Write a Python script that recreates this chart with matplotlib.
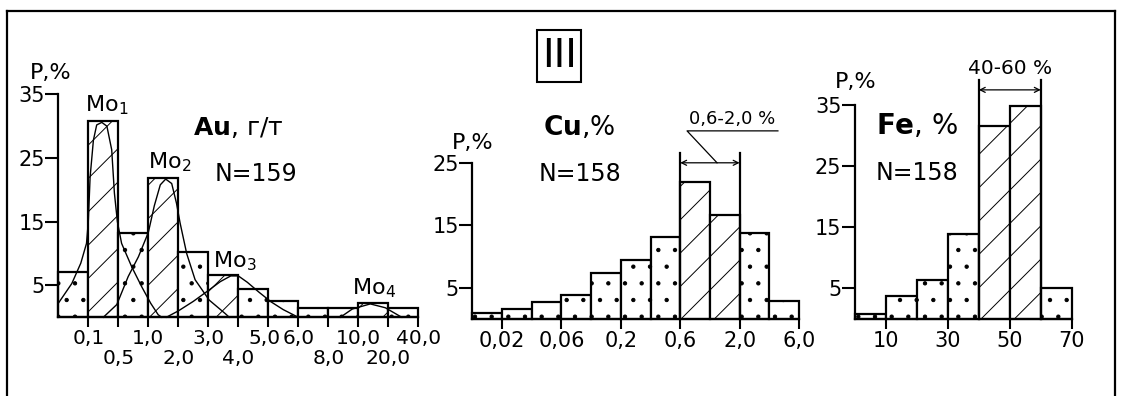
import matplotlib
matplotlib.use("Agg")
import matplotlib.pyplot as plt
from matplotlib.lines import Line2D
from matplotlib.patches import Rectangle

plt.rcParams['font.family'] = ['DejaVu Sans']
plt.rcParams['hatch.linewidth'] = 0.7

# ---- data ----
# Au, g/t  (12 classes, N=159)
au_edges = ['0,1', '0,5', '1,0', '2,0', '3,0', '4,0', '5,0', '6,0', '8,0', '10,0', '20,0', '40,0']
au_p = [7.1, 30.8, 13.3, 21.8, 10.3, 6.7, 4.4, 2.6, 1.4, 1.4, 2.2, 1.5]
au_hatched = [1, 3, 5, 10]
# fitted mode curves (x in class units, y in %)
mo1_x = [0.0, 0.45, 0.75, 0.94, 1.0, 1.06, 1.17, 1.28, 1.45, 1.62, 1.78, 1.87, 1.97, 2.11, 2.45, 2.78, 3.08, 3.33, 3.45]
mo1_y = [2.2, 5.3, 8.5, 11.6, 15.0, 22.0, 27.8, 30.2, 30.6, 30.0, 26.3, 19.5, 15.0, 11.6, 7.9, 4.8, 2.2, 0.4, 0.0]
mo2_x = [1.5, 1.95, 2.33, 2.67, 3.0, 3.2, 3.4, 3.58, 3.78, 3.94, 4.06, 4.28, 4.56, 5.03, 5.56, 5.7]
mo2_y = [0.0, 2.0, 6.4, 9.5, 13.3, 17.5, 20.8, 21.7, 21.0, 17.9, 14.8, 10.0, 5.9, 2.7, 0.6, 0.0]
mo3_x = [3.6, 4.0, 4.5, 5.0, 5.4, 5.75, 6.0, 6.3, 6.7, 7.1, 7.5, 8.0]
mo3_y = [0.0, 1.0, 2.5, 4.2, 5.6, 6.5, 6.5, 5.5, 3.9, 2.4, 1.2, 0.0]
mo4_x = [9.4, 9.8, 10.4, 10.9, 11.45]
mo4_y = [0.0, 1.3, 2.1, 1.5, 0.0]

# Cu, %  (11 classes, N=158)
cu_edges = ['0,02', '', '0,06', '', '0,2', '', '0,6', '', '2,0', '', '6,0']
cu_p = [1.0, 1.6, 2.8, 3.9, 7.4, 9.5, 13.2, 21.9, 16.7, 13.8, 2.9]
cu_hatched = [7, 8]

# Fe, %  (7 classes, N=158)
fe_edges = ['10', '', '30', '', '50', '', '70']
fe_p = [0.9, 3.8, 6.4, 13.9, 31.6, 34.8, 5.1]
fe_hatched = [4, 5]

W, H = 1121, 396
fig = plt.figure(figsize=(W / 100, H / 100), dpi=100)


def px(x, y):
    return x / W, (H - y) / H


def make_ax(x0, x1, base, scale, top, n, yticks):
    ax = fig.add_axes([x0 / W, (H - base) / H, (x1 - x0) / W, top * scale / H])
    ax.set_xlim(0, n)
    ax.set_ylim(0, top)
    ax.patch.set_visible(False)
    for s in ['top', 'right']:
        ax.spines[s].set_visible(False)
    ax.spines['left'].set_bounds(0, yticks[-1])
    ax.spines['left'].set_linewidth(1.6)
    ax.spines['bottom'].set_linewidth(1.6)
    ax.set_yticks(yticks, [str(t) for t in yticks])
    ax.tick_params(axis='y', length=9.5, width=1.5, pad=0.3, labelsize=15)
    ax.tick_params(axis='x', length=7.5, width=1.5, pad=0.8, labelsize=15)
    return ax


def draw_bars(ax, p, hatched):
    xs = [i + 0.5 for i in range(len(p))]
    bars = ax.bar(xs, p, width=1, color='white', edgecolor='black', linewidth=1.6, clip_on=False, zorder=2)
    for i, b in enumerate(bars):
        b.set_hatch('/' if i in hatched else '.')


# ---- Au panel ----
ax1 = make_ax(58.3, 418.3, 317.3, 6.37, 36, 12, [5, 15, 25, 35])
draw_bars(ax1, au_p, au_hatched)
ax1.set_xticks(range(1, 13), [''] * 12)
# two staggered rows of class-boundary labels
au_row = [0, 1, 0, 1, 0, 1, 0, 0, 1, 0, 1, 0]
au_dx = [0, 0, 0, 0, 0, 0, -3, 0, 0, 0, 0, 0]
for i, (lab, r, dx) in enumerate(zip(au_edges, au_row, au_dx)):
    ax1.annotate(lab, xy=(i + 1, 0), xytext=(dx, -22.7 if r else -8.3), textcoords='offset points',
                 ha='center', va='top', fontsize=14.5, annotation_clip=False)
for cx, cy in [(mo1_x, mo1_y), (mo2_x, mo2_y), (mo3_x, mo3_y), (mo4_x, mo4_y)]:
    ax1.plot(cx, cy, color='black', lw=1.0, clip_on=False, zorder=3)

# ---- Cu panel ----
ax2 = make_ax(472.3, 799, 319.3, 6.26, 26, 11, [5, 15, 25])
draw_bars(ax2, cu_p, cu_hatched)
ticks = [i + 1 for i, l in enumerate(cu_edges) if l]
ax2.set_xticks(ticks, [cu_edges[i - 1] for i in ticks])
lo, hi = 7, 9
ax2.plot([lo, lo], [0, 26.6], color='black', lw=1.6, clip_on=False, zorder=3)
ax2.plot([hi, hi], [0, 26.6], color='black', lw=1.6, clip_on=False, zorder=3)
ax2.annotate('', xy=(lo, 25.0), xytext=(hi, 25.0), annotation_clip=False,
             arrowprops=dict(arrowstyle='<->', lw=0.9, color='black', shrinkA=0, shrinkB=0, mutation_scale=9))
ax2.plot([8.24, 7.23, 10.29], [25.0, 30.1, 30.1], color='black', lw=0.9, clip_on=False)
ax2.text(8.76, 30.5, '0,6-2,0 %', ha='center', va='bottom', fontsize=13)

# ---- Fe panel ----
ax3 = make_ax(855, 1071.7, 319, 6.11, 36, 7, [5, 15, 25, 35])
draw_bars(ax3, fe_p, fe_hatched)
ticks = [i + 1 for i, l in enumerate(fe_edges) if l]
ax3.set_xticks(ticks, [fe_edges[i - 1] for i in ticks])
lo, hi = 4, 6
ax3.plot([lo, lo], [0, 39.1], color='black', lw=1.6, clip_on=False, zorder=3)
ax3.plot([hi, hi], [0, 39.1], color='black', lw=1.6, clip_on=False, zorder=3)
ax3.annotate('', xy=(lo, 37.5), xytext=(hi, 37.5), annotation_clip=False,
             arrowprops=dict(arrowstyle='<->', lw=0.9, color='black', shrinkA=0, shrinkB=0, mutation_scale=9))
ax3.text(5, 41.0, '40-60 %', ha='center', va='center', fontsize=14.5)

# ---- texts ----
fig.text(*px(30, 73), 'P,%', ha='left', va='center', fontsize=16)
fig.text(*px(452, 143), 'P,%', ha='left', va='center', fontsize=16)
fig.text(*px(835, 82), 'P,%', ha='left', va='center', fontsize=16)

fig.text(*px(238, 128), r'$\mathbf{Au}$, г/т', ha='center', va='center', fontsize=18)
fig.text(*px(256, 174), 'N=159', ha='center', va='center', fontsize=17)
fig.text(*px(579, 128), r'$\mathbf{Cu}$,%', ha='center', va='center', fontsize=19)
fig.text(*px(580, 174), 'N=158', ha='center', va='center', fontsize=17)
fig.text(*px(917, 126), r'$\mathbf{Fe}$, %', ha='center', va='center', fontsize=20)
fig.text(*px(917, 173), 'N=158', ha='center', va='center', fontsize=17)

for x, y, k in [(85, 105, 1), (148, 162, 2), (213, 261, 3), (352, 288, 4)]:
    fig.text(*px(x, y), r'Mo$_\mathregular{%d}$' % k, ha='left', va='center', fontsize=16)

# roman numeral box
fig.add_artist(Rectangle(px(537, 82), 44 / W, 52 / H, transform=fig.transFigure,
                         fill=False, edgecolor='black', lw=1.5))
fig.text(*px(560, 56), 'III', ha='center', va='center', fontsize=28)

# outer frame
fig.add_artist(Line2D([7 / W, 7 / W], [0, (H - 11) / H], transform=fig.transFigure, color='black', lw=1.6))
fig.add_artist(Line2D([7 / W, 1115 / W], [(H - 11) / H, (H - 11) / H], transform=fig.transFigure, color='black', lw=1.6))
fig.add_artist(Line2D([1115 / W, 1115 / W], [0, (H - 11) / H], transform=fig.transFigure, color='black', lw=1.6))

fig.savefig('out.png', dpi=100)
